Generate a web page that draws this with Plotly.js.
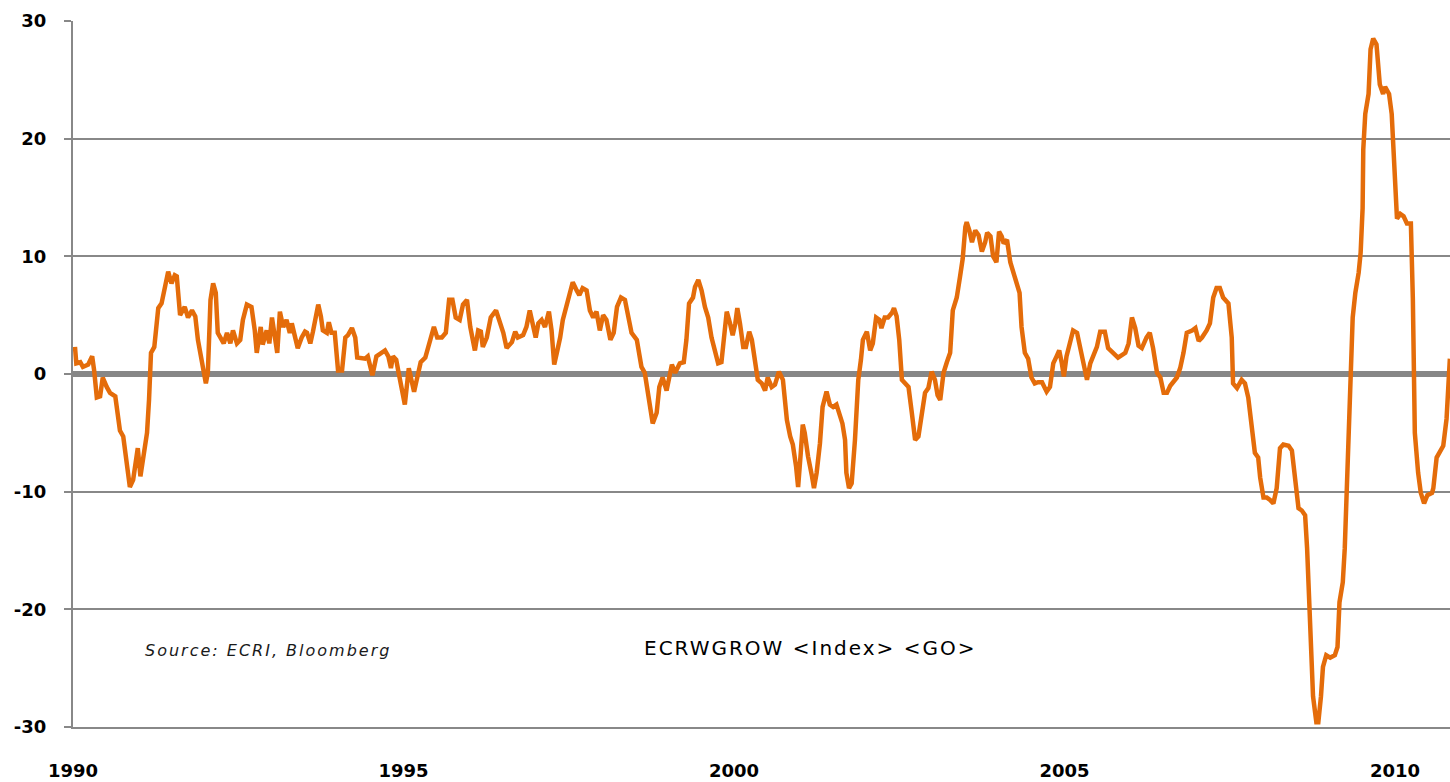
<!DOCTYPE html>
<html>
<head>
<meta charset="utf-8">
<script src="https://cdn.plot.ly/plotly-3.0.1.min.js"></script>
<style>html,body{margin:0;padding:0;background:#fff;}#chart{width:1450px;height:782px;}
.annotation-text{letter-spacing:2px;}</style>
</head>
<body>
<div id="chart"></div>
<script>
// Decimal-year dates of the ECRI weekly leading index growth series
var years = [
1990.03,1990.05,1990.11,1990.15,1990.23,1990.29,1990.32,1990.36,1990.41,1990.45,1990.51,1990.56,1990.64,1990.68,1990.71,1990.76,1990.81,1990.86,1990.91,1990.96,1990.98,
1991.02,1991.07,1991.12,1991.15,1991.18,1991.23,1991.26,1991.29,1991.34,1991.39,1991.44,1991.49,1991.54,1991.57,1991.62,1991.69,1991.74,1991.80,1991.85,1991.89,1991.95,
1992.01,1992.04,1992.08,1992.12,1992.16,1992.19,1992.25,1992.28,1992.33,1992.38,1992.42,1992.48,1992.53,1992.57,1992.63,1992.70,1992.75,1992.78,1992.84,1992.87,1992.93,1992.97,
1993.01,1993.06,1993.09,1993.13,1993.18,1993.23,1993.28,1993.31,1993.36,1993.40,1993.46,1993.51,1993.54,1993.59,1993.63,1993.69,1993.71,1993.75,1993.78,1993.84,1993.87,1993.91,1993.96,
1994.01,1994.07,1994.12,1994.16,1994.22,1994.27,1994.30,1994.37,1994.42,1994.46,1994.53,1994.59,1994.66,1994.72,1994.77,1994.81,1994.84,1994.89,1994.92,1994.97,
1995.02,1995.08,1995.12,1995.16,1995.20,1995.26,1995.33,1995.37,1995.41,1995.46,1995.51,1995.58,1995.64,1995.69,1995.74,1995.79,1995.85,1995.90,1995.96,
1996.01,1996.08,1996.13,1996.17,1996.20,1996.26,1996.32,1996.40,1996.46,1996.51,1996.56,1996.64,1996.69,1996.73,1996.81,1996.86,1996.91,1996.96,
1997.00,1997.04,1997.09,1997.14,1997.20,1997.24,1997.28,1997.32,1997.37,1997.41,1997.47,1997.52,1997.56,1997.62,1997.66,1997.71,1997.77,1997.82,1997.87,1997.92,1997.97,
1998.02,1998.07,1998.13,1998.18,1998.23,1998.29,1998.35,1998.40,1998.45,1998.53,1998.60,1998.65,1998.70,1998.77,1998.83,1998.87,1998.92,1998.98,
1999.06,1999.11,1999.18,1999.24,1999.28,1999.32,1999.38,1999.41,1999.46,1999.51,1999.56,1999.61,1999.66,1999.71,1999.76,1999.81,1999.85,1999.89,1999.94,1999.98,
2000.02,2000.05,2000.09,2000.14,2000.18,2000.23,2000.27,2000.32,2000.36,2000.42,2000.47,2000.51,2000.57,2000.62,2000.68,2000.74,2000.80,2000.85,2000.89,2000.94,2000.97,
2001.01,2001.04,2001.07,2001.12,2001.18,2001.21,2001.25,2001.30,2001.34,2001.40,2001.45,2001.50,2001.55,2001.59,2001.64,2001.68,2001.70,2001.74,2001.78,2001.83,2001.88,2001.92,2001.95,
2002.01,2002.06,2002.10,2002.15,2002.20,2002.23,2002.28,2002.33,2002.39,2002.42,2002.46,2002.50,2002.54,2002.59,2002.64,2002.69,2002.74,2002.79,2002.84,2002.89,2002.94,2002.99,
2003.04,2003.08,2003.12,2003.17,2003.22,2003.27,2003.31,2003.37,2003.42,2003.46,2003.50,2003.52,2003.56,2003.60,2003.65,2003.70,2003.75,2003.80,2003.83,2003.88,2003.92,2003.97,
2004.01,2004.05,2004.08,2004.13,2004.18,2004.23,2004.28,2004.32,2004.35,2004.40,2004.45,2004.50,2004.55,2004.60,2004.66,2004.73,2004.78,2004.83,2004.88,2004.92,2004.96,2004.99,
2005.03,2005.08,2005.13,2005.19,2005.24,2005.29,2005.34,2005.39,2005.44,2005.49,2005.54,2005.61,2005.66,2005.74,2005.81,2005.92,2005.97,
2006.02,2006.07,2006.12,2006.17,2006.24,2006.29,2006.34,2006.40,2006.45,2006.50,2006.55,2006.60,2006.70,2006.75,2006.80,2006.85,2006.93,2006.98,
2007.03,2007.08,2007.15,2007.20,2007.25,2007.30,2007.35,2007.40,2007.48,2007.53,2007.55,2007.61,2007.68,2007.73,2007.78,2007.83,2007.88,2007.93,2007.96,
2008.01,2008.06,2008.11,2008.16,2008.21,2008.26,2008.31,2008.39,2008.44,2008.49,2008.54,2008.59,2008.64,2008.67,2008.71,2008.76,2008.81,2008.84,2008.88,2008.91,2008.96,
2009.02,2009.09,2009.13,2009.16,2009.21,2009.24,2009.27,2009.29,2009.33,2009.36,2009.40,2009.45,2009.48,2009.51,2009.52,2009.55,2009.60,2009.63,2009.67,2009.72,2009.77,2009.82,2009.85,2009.91,2009.95,2009.99,
2010.03,2010.08,2010.13,2010.18,2010.24,2010.27,2010.29,2010.30,2010.35,2010.39,2010.44,2010.49,2010.56,2010.58,2010.63,2010.68,2010.73,2010.78,2010.83
];
// Annualised growth rate, %
var growth = [
2.3,0.9,1.0,0.6,0.8,1.5,0.3,-2.0,-1.9,-0.3,-1.1,-1.6,-1.9,-3.3,-4.8,-5.3,-7.3,-9.6,-9.0,-6.7,-6.3,
-8.7,-6.5,-5.0,-2.2,1.8,2.3,4.6,5.6,6.0,7.4,8.7,7.7,8.4,8.3,5.0,5.7,4.8,5.4,4.9,2.9,1.2,
-0.8,0.1,6.3,7.7,6.9,3.5,2.9,2.6,3.5,2.6,3.7,2.6,2.9,4.6,5.9,5.7,3.7,1.8,4.0,2.5,3.7,2.6,
4.8,2.9,1.8,5.3,4.0,4.6,3.5,4.3,3.1,2.2,3.1,3.6,3.5,2.6,3.6,5.2,5.9,4.9,3.7,3.5,4.4,3.5,3.5,
0.3,0.3,3.1,3.3,3.9,3.1,1.4,1.3,1.3,1.5,-0.1,1.5,1.8,2.0,1.5,0.5,1.5,1.2,0.3,-1.4,
-2.6,0.5,-0.5,-1.5,-0.5,1.0,1.4,2.3,3.1,4.0,3.1,3.1,3.5,6.3,6.3,4.8,4.6,5.9,6.3,
4.0,2.0,3.7,3.6,2.3,3.1,4.8,5.4,4.4,3.5,2.2,2.7,3.6,3.1,3.3,4.0,5.4,4.3,
3.1,4.3,4.6,4.0,5.3,3.7,0.8,1.8,3.1,4.6,6.0,7.1,7.8,7.1,6.7,7.3,7.1,5.4,4.8,5.3,3.7,
5.0,4.6,2.9,3.5,5.7,6.5,6.3,4.8,3.5,2.9,0.6,0.1,-1.6,-4.2,-3.3,-1.1,-0.3,-1.4,
0.8,0.1,0.9,1.0,2.9,6.0,6.5,7.4,8.0,7.1,5.7,4.8,3.1,1.8,0.9,1.0,3.5,5.3,4.3,3.3,
4.3,5.6,4.3,2.3,2.3,3.6,2.9,0.6,-0.5,-0.8,-1.4,-0.3,-1.1,-0.9,0.2,-0.5,-3.9,-5.3,-6.0,-7.9,-9.6,
-6.7,-4.3,-5.0,-7.0,-8.7,-9.7,-8.4,-5.9,-2.8,-1.5,-2.6,-2.8,-2.6,-3.3,-4.2,-5.6,-8.4,-9.7,-9.3,-5.6,-0.5,1.2,2.9,
3.6,2.0,2.6,4.8,4.6,3.9,4.8,4.8,5.2,5.6,4.9,2.9,-0.5,-0.8,-1.1,-3.3,-5.6,-5.3,-3.7,-1.6,-1.2,0.2,
-0.5,-1.8,-2.2,0.1,1.0,1.8,5.4,6.5,8.3,9.8,12.5,12.9,12.2,11.2,12.2,11.8,10.4,11.2,12.0,11.7,10.0,9.5,
12.1,11.7,11.1,11.4,9.5,8.6,7.7,6.9,4.0,1.8,1.3,-0.3,-0.8,-0.7,-0.7,-1.5,-1.1,0.9,1.5,2.0,0.9,-0.2,
1.5,2.5,3.7,3.5,2.0,0.6,-0.5,0.9,1.5,2.3,3.6,3.6,2.2,1.8,1.4,1.8,2.6,
4.8,3.9,2.4,2.2,3.1,3.5,2.2,0.1,-0.3,-1.6,-1.6,-1.0,-0.3,0.5,1.8,3.5,3.7,3.9,
2.8,3.1,3.7,4.3,6.5,7.3,7.3,6.5,6.0,3.1,-0.8,-1.2,-0.5,-0.8,-2.0,-4.6,-6.7,-7.1,-8.8,
-10.5,-10.5,-10.7,-11.0,-9.7,-6.3,-6.0,-6.1,-6.5,-8.8,-11.4,-11.6,-12.0,-14.8,-21.1,-27.4,-29.6,-29.6,-27.4,-24.9,-23.9,
-24.1,-23.9,-23.2,-19.4,-17.7,-14.8,-9.7,-5.0,0.5,4.8,6.9,8.6,10.3,14.1,19.1,22.1,23.8,27.6,28.5,28.0,24.6,23.8,24.4,23.8,22.1,17.8,
13.2,13.6,13.4,12.8,12.8,6.4,0.1,-5.0,-8.4,-10.1,-11.0,-10.3,-10.1,-9.7,-7.1,-6.5,-6.1,-3.8,1.3
];
var tickYears = [1990, 1995, 2000, 2005, 2010];
var tickLabels = ['1990', '1995', '2000', '2005', '2010'];
var yTicks = [-30, -20, -10, 0, 10, 20, 30];
var yTickLabels = ['-30', '-20', '-10', '0', '10', '20', '30'];

var trace = {
  x: years, y: growth, type: 'scatter', mode: 'lines',
  line: {color: '#E46C0A', width: 4.5}, hoverinfo: 'x+y', showlegend: false
};

var layout = {
  width: 1450, height: 782,
  margin: {l: 73, r: 0, t: 21, b: 55, pad: 0},
  paper_bgcolor: '#ffffff', plot_bgcolor: '#ffffff',
  showlegend: false,
  xaxis: {
    range: [1990, 2010.832], tickvals: tickYears, ticktext: tickLabels,
    showgrid: false, zeroline: false, showline: true, linecolor: '#888888', linewidth: 2,
    ticks: '', ticklabelstandoff: 26,
    tickfont: {family: 'DejaVu Sans', size: 18, color: '#000000', weight: 'bold'}
  },
  yaxis: {
    range: [-30, 30], tickvals: yTicks, ticktext: yTickLabels,
    showgrid: true, gridcolor: '#888888', gridwidth: 2,
    zeroline: true, zerolinecolor: '#878787', zerolinewidth: 6,
    showline: true, linecolor: '#888888', linewidth: 2,
    ticks: 'outside', ticklen: 7, tickcolor: '#888888', tickwidth: 2,
    ticklabelstandoff: 14,
    tickfont: {family: 'DejaVu Sans', size: 18, color: '#000000', weight: 'bold'}
  },
  annotations: [
    {text: 'Source: ECRI, Bloomberg', xref: 'paper', yref: 'paper', x: 0.0508, y: 0.109,
     xanchor: 'left', yanchor: 'middle', showarrow: false,
     font: {family: 'DejaVu Sans', size: 16, color: '#1a1a1a', style: 'italic'}},
    {text: 'ECRWGROW &lt;Index&gt; &lt;GO&gt;', xref: 'paper', yref: 'paper', x: 0.413, y: 0.112,
     xanchor: 'left', yanchor: 'middle', showarrow: false,
     font: {family: 'DejaVu Sans', size: 20, color: '#000000'}}
  ]
};

Plotly.newPlot('chart', [trace], layout, {displayModeBar: false, staticPlot: true});
</script>
</body>
</html>
